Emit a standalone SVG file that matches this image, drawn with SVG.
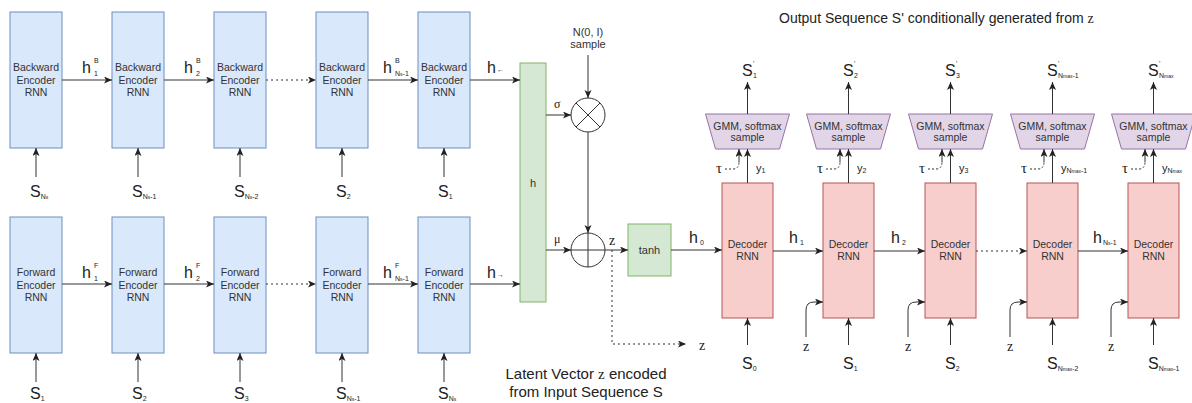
<svg xmlns="http://www.w3.org/2000/svg" width="1192" height="403" viewBox="0 0 1192 403">
<style>
.enc{fill:#dae8fc;stroke:#6c8ebf;stroke-width:1}
.grn{fill:#d5e8d4;stroke:#82b366;stroke-width:1}
.dec{fill:#f8cecc;stroke:#b85450;stroke-width:1}
.gmm{fill:#e1d5e7;stroke:#9673a6;stroke-width:1}
.bt{font-family:"Liberation Sans",Arial,sans-serif;font-size:10.5px;fill:#333;text-anchor:middle}
.big{font-family:"Liberation Sans",Arial,sans-serif;font-size:16px;fill:#222}
.sm{font-size:7px}
.cap{font-family:"Liberation Sans",Arial,sans-serif;font-size:13.5px;fill:#222}
.ser{font-family:"Liberation Serif","Times New Roman",serif;fill:#222}
.ln{fill:none;stroke:#333;stroke-width:1}
.ar{fill:none;stroke:#333;stroke-width:1;marker-end:url(#arr)}
.dot{fill:none;stroke:#333;stroke-width:1;stroke-dasharray:2 3;marker-end:url(#arr)}
.dotn{fill:none;stroke:#333;stroke-width:1;stroke-dasharray:2 2}
.circ{fill:#fff;stroke:#333;stroke-width:1}
</style>
<defs>
<marker id="arr" markerWidth="9" markerHeight="8" refX="8" refY="3.5" orient="auto" markerUnits="userSpaceOnUse">
<path d="M0,0 L8,3.5 L0,7 L2,3.5 z" fill="#222"/>
</marker>
</defs>
<rect width="1192" height="403" fill="#fff"/>

<!-- Backward encoders -->
<g id="benc1"><rect class="enc" x="10" y="12" width="52" height="136"/><text class="bt" x="36" y="71">Backward</text><text class="bt" x="36" y="84">Encoder</text><text class="bt" x="36" y="96">RNN</text></g>
<g id="benc2"><rect class="enc" x="112" y="12" width="52" height="136"/><text class="bt" x="138" y="71">Backward</text><text class="bt" x="138" y="84">Encoder</text><text class="bt" x="138" y="96">RNN</text></g>
<g id="benc3"><rect class="enc" x="214" y="12" width="52" height="136"/><text class="bt" x="240" y="71">Backward</text><text class="bt" x="240" y="84">Encoder</text><text class="bt" x="240" y="96">RNN</text></g>
<g id="benc4"><rect class="enc" x="316" y="12" width="52" height="136"/><text class="bt" x="342" y="71">Backward</text><text class="bt" x="342" y="84">Encoder</text><text class="bt" x="342" y="96">RNN</text></g>
<g id="benc5"><rect class="enc" x="418" y="12" width="52" height="136"/><text class="bt" x="444" y="71">Backward</text><text class="bt" x="444" y="84">Encoder</text><text class="bt" x="444" y="96">RNN</text></g>

<!-- Forward encoders -->
<g id="fenc1"><rect class="enc" x="10" y="217" width="52" height="136"/><text class="bt" x="36" y="276">Forward</text><text class="bt" x="36" y="289">Encoder</text><text class="bt" x="36" y="301">RNN</text></g>
<g id="fenc2"><rect class="enc" x="112" y="217" width="52" height="136"/><text class="bt" x="138" y="276">Forward</text><text class="bt" x="138" y="289">Encoder</text><text class="bt" x="138" y="301">RNN</text></g>
<g id="fenc3"><rect class="enc" x="214" y="217" width="52" height="136"/><text class="bt" x="240" y="276">Forward</text><text class="bt" x="240" y="289">Encoder</text><text class="bt" x="240" y="301">RNN</text></g>
<g id="fenc4"><rect class="enc" x="316" y="217" width="52" height="136"/><text class="bt" x="342" y="276">Forward</text><text class="bt" x="342" y="289">Encoder</text><text class="bt" x="342" y="301">RNN</text></g>
<g id="fenc5"><rect class="enc" x="418" y="217" width="52" height="136"/><text class="bt" x="444" y="276">Forward</text><text class="bt" x="444" y="289">Encoder</text><text class="bt" x="444" y="301">RNN</text></g>

<!-- h concat -->
<g id="hbox"><rect class="grn" x="520" y="63" width="26" height="239"/><text class="bt" x="533" y="187" style="font-size:11px">h</text></g>

<!-- ops -->
<g id="mul"><circle class="circ" cx="588" cy="115" r="17"/><path class="ln" d="M576,103 L600,127 M600,103 L576,127"/></g>
<g id="add"><circle class="circ" cx="588" cy="250" r="17"/><path class="ln" d="M571,250 L605,250 M588,233 L588,267"/></g>
<g id="noise"><text class="bt" x="588" y="36" style="font-size:11px">N(0, I)</text><text class="bt" x="588" y="48" style="font-size:11px">sample</text></g>
<g id="tanh"><rect class="grn" x="628" y="224" width="43" height="52"/><text class="bt" x="649.5" y="254" style="font-size:11px">tanh</text></g>

<!-- Decoders -->
<g id="dec1"><rect class="dec" x="722" y="183" width="51" height="135"/><text class="bt" x="747.5" y="248">Decoder</text><text class="bt" x="747.5" y="260">RNN</text></g>
<g id="dec2"><rect class="dec" x="823" y="183" width="51" height="135"/><text class="bt" x="848.5" y="248">Decoder</text><text class="bt" x="848.5" y="260">RNN</text></g>
<g id="dec3"><rect class="dec" x="925" y="183" width="51" height="135"/><text class="bt" x="950.5" y="248">Decoder</text><text class="bt" x="950.5" y="260">RNN</text></g>
<g id="dec4"><rect class="dec" x="1027" y="183" width="51" height="135"/><text class="bt" x="1052.5" y="248">Decoder</text><text class="bt" x="1052.5" y="260">RNN</text></g>
<g id="dec5"><rect class="dec" x="1128" y="183" width="51" height="135"/><text class="bt" x="1153.5" y="248">Decoder</text><text class="bt" x="1153.5" y="260">RNN</text></g>

<!-- GMM samplers -->
<g id="gmm1"><path class="gmm" d="M705.5,114 L789.5,114 L779.5,149 L715.5,149 Z"/><text class="bt" x="747.5" y="129.5">GMM, softmax</text><text class="bt" x="747.5" y="141">sample</text></g>
<g id="gmm2"><path class="gmm" d="M806.5,114 L890.5,114 L880.5,149 L816.5,149 Z"/><text class="bt" x="848.5" y="129.5">GMM, softmax</text><text class="bt" x="848.5" y="141">sample</text></g>
<g id="gmm3"><path class="gmm" d="M908.5,114 L992.5,114 L982.5,149 L918.5,149 Z"/><text class="bt" x="950.5" y="129.5">GMM, softmax</text><text class="bt" x="950.5" y="141">sample</text></g>
<g id="gmm4"><path class="gmm" d="M1010.5,114 L1094.5,114 L1084.5,149 L1020.5,149 Z"/><text class="bt" x="1052.5" y="129.5">GMM, softmax</text><text class="bt" x="1052.5" y="141">sample</text></g>
<g id="gmm5"><path class="gmm" d="M1111.5,114 L1195.5,114 L1185.5,149 L1121.5,149 Z"/><text class="bt" x="1153.5" y="129.5">GMM, softmax</text><text class="bt" x="1153.5" y="141">sample</text></g>

<!-- Connectors -->
<g id="connectors">
<path class="ar" d="M62,80 L112,80"/>
<path class="ar" d="M164,80 L214,80"/>
<path class="dot" d="M266,80 L316,80"/>
<path class="ar" d="M368,80 L418,80"/>
<path class="ar" d="M470,80 L520,80"/>
<path class="ar" d="M62,284 L112,284"/>
<path class="ar" d="M164,284 L214,284"/>
<path class="dot" d="M266,284 L316,284"/>
<path class="ar" d="M368,284 L418,284"/>
<path class="ar" d="M470,284 L520,284"/>
<path class="ar" d="M36,177 L36,148"/>
<path class="ar" d="M138,177 L138,148"/>
<path class="ar" d="M240,177 L240,148"/>
<path class="ar" d="M342,177 L342,148"/>
<path class="ar" d="M444,177 L444,148"/>
<path class="ar" d="M36,382 L36,353"/>
<path class="ar" d="M138,382 L138,353"/>
<path class="ar" d="M240,382 L240,353"/>
<path class="ar" d="M342,382 L342,353"/>
<path class="ar" d="M444,382 L444,353"/>
<path class="ar" d="M546,115 L571,115"/>
<path class="ar" d="M546,250 L571,250"/>
<path class="ar" d="M588,55 L588,98"/>
<path class="ar" d="M588,132 L588,233"/>
<path class="ar" d="M605,250 L628,250"/>
<path class="dot" d="M612,250 L612,344 L686,344"/>
<path class="ar" d="M671,250 L722,250"/>
<path class="ar" d="M773,251 L823,251"/>
<path class="ar" d="M874,251 L925,251"/>
<path class="dot" d="M976,251 L1027,251"/>
<path class="ar" d="M1078,251 L1128,251"/>
<path class="ar" d="M747.5,345 L747.5,318"/>
<path class="ar" d="M848.5,345 L848.5,318"/>
<path class="ar" d="M950.5,345 L950.5,318"/>
<path class="ar" d="M1052.5,345 L1052.5,318"/>
<path class="ar" d="M1153.5,345 L1153.5,318"/>
<path class="ar" d="M806,337 L806,310 Q806,302 814,302 L823,302"/>
<path class="ar" d="M908,337 L908,310 Q908,302 916,302 L925,302"/>
<path class="ar" d="M1010,337 L1010,310 Q1010,302 1018,302 L1027,302"/>
<path class="ar" d="M1111,337 L1111,310 Q1111,302 1119,302 L1128,302"/>
<path class="ar" d="M747.5,183 L747.5,149"/>
<path class="ar" d="M848.5,183 L848.5,149"/>
<path class="ar" d="M950.5,183 L950.5,149"/>
<path class="ar" d="M1052.5,183 L1052.5,149"/>
<path class="ar" d="M1153.5,183 L1153.5,149"/>
<path class="ar" d="M747.5,114 L747.5,82"/>
<path class="ar" d="M848.5,114 L848.5,82"/>
<path class="ar" d="M950.5,114 L950.5,82"/>
<path class="ar" d="M1052.5,114 L1052.5,82"/>
<path class="ar" d="M1153.5,114 L1153.5,82"/>
<path class="dotn" d="M725,169 L733,169 Q739,169 739,162"/><path class="ar" d="M739,162 L739,149"/>
<path class="dotn" d="M826,169 L834,169 Q840,169 840,162"/><path class="ar" d="M840,162 L840,149"/>
<path class="dotn" d="M928,169 L936,169 Q942,169 942,162"/><path class="ar" d="M942,162 L942,149"/>
<path class="dotn" d="M1030,169 L1038,169 Q1044,169 1044,162"/><path class="ar" d="M1044,162 L1044,149"/>
<path class="dotn" d="M1131,169 L1139,169 Q1145,169 1145,162"/><path class="ar" d="M1145,162 L1145,149"/>
</g>

<!-- Encoder labels -->
<g id="enc-labels">
<text class="big" x="82" y="73">h<tspan class="sm" x="94" y="63">B</tspan><tspan class="sm" x="94" y="76">1</tspan></text>
<text class="big" x="184" y="73">h<tspan class="sm" x="196" y="63">B</tspan><tspan class="sm" x="196" y="76">2</tspan></text>
<text class="big" x="383" y="73">h<tspan class="sm" x="395" y="63">B</tspan><tspan class="sm" x="395" y="76">N<tspan style="font-size:5px">s</tspan>-1</tspan></text>
<text class="big" x="487" y="73">h<tspan class="sm" x="497" y="72">←</tspan></text>
<text class="big" x="82" y="278">h<tspan class="sm" x="94" y="268">F</tspan><tspan class="sm" x="94" y="281">1</tspan></text>
<text class="big" x="184" y="278">h<tspan class="sm" x="196" y="268">F</tspan><tspan class="sm" x="196" y="281">2</tspan></text>
<text class="big" x="383" y="278">h<tspan class="sm" x="395" y="268">F</tspan><tspan class="sm" x="395" y="281">N<tspan style="font-size:5px">s</tspan>-1</tspan></text>
<text class="big" x="487" y="278">h<tspan class="sm" x="497" y="277">→</tspan></text>
<text class="big" x="30" y="197">S<tspan class="sm" dy="2">N<tspan style="font-size:5px">s</tspan></tspan></text>
<text class="big" x="132" y="197">S<tspan class="sm" dy="2">N<tspan style="font-size:5px">s</tspan>-1</tspan></text>
<text class="big" x="234" y="197">S<tspan class="sm" dy="2">N<tspan style="font-size:5px">s</tspan>-2</tspan></text>
<text class="big" x="336" y="197">S<tspan class="sm" dy="2">2</tspan></text>
<text class="big" x="438" y="197">S<tspan class="sm" dy="2">1</tspan></text>
<text class="big" x="30" y="399">S<tspan class="sm" dy="2">1</tspan></text>
<text class="big" x="132" y="399">S<tspan class="sm" dy="2">2</tspan></text>
<text class="big" x="234" y="399">S<tspan class="sm" dy="2">3</tspan></text>
<text class="big" x="336" y="399">S<tspan class="sm" dy="2">N<tspan style="font-size:5px">s</tspan>-1</tspan></text>
<text class="big" x="438" y="399">S<tspan class="sm" dy="2">N<tspan style="font-size:5px">s</tspan></tspan></text>
</g>

<!-- Middle labels -->
<g id="mid-labels">
<text class="ser" x="554" y="108" style="font-size:12px">σ</text>
<text class="ser" x="554" y="243" style="font-size:12px">μ</text>
<text class="ser" x="609" y="245" style="font-size:14px">z</text>
<text class="ser" x="699" y="350" style="font-size:14px">z</text>
<text class="big" x="689" y="243">h<tspan class="sm" dx="2" dy="2">0</tspan></text>
<text class="cap" x="586" y="379" text-anchor="middle" style="font-size:15px">Latent Vector <tspan class="ser">z</tspan> encoded</text>
<text class="cap" x="586" y="397" text-anchor="middle" style="font-size:15px">from Input Sequence S</text>
</g>

<!-- Decoder labels -->
<g id="dec-labels">
<text class="cap" x="779" y="23" style="font-size:14px">Output Sequence S' conditionally generated from <tspan class="ser">z</tspan></text>
<text class="big" x="789" y="243">h<tspan class="sm" dx="2" dy="2">1</tspan></text>
<text class="big" x="891" y="243">h<tspan class="sm" dx="2" dy="2">2</tspan></text>
<text class="big" x="1093" y="243">h<tspan class="sm" dx="1" dy="2">N<tspan style="font-size:5px">s</tspan>-1</tspan></text>
<text class="big" x="742" y="76">S<tspan class="sm" x="753" y="66">'</tspan><tspan class="sm" x="753" y="78">1</tspan></text>
<text class="big" x="843" y="76">S<tspan class="sm" x="854" y="66">'</tspan><tspan class="sm" x="854" y="78">2</tspan></text>
<text class="big" x="945" y="76">S<tspan class="sm" x="956" y="66">'</tspan><tspan class="sm" x="956" y="78">3</tspan></text>
<text class="big" x="1047" y="76">S<tspan class="sm" x="1058" y="66">'</tspan><tspan class="sm" x="1058" y="78">N<tspan style="font-size:5px">max</tspan>-1</tspan></text>
<text class="big" x="1148" y="76">S<tspan class="sm" x="1159" y="66">'</tspan><tspan class="sm" x="1159" y="78">N<tspan style="font-size:5px">max</tspan></tspan></text>
<text class="ser" x="716" y="173" style="font-size:15px">τ</text>
<text class="ser" x="817" y="173" style="font-size:15px">τ</text>
<text class="ser" x="919" y="173" style="font-size:15px">τ</text>
<text class="ser" x="1021" y="173" style="font-size:15px">τ</text>
<text class="ser" x="1122" y="173" style="font-size:15px">τ</text>
<text class="cap" x="756" y="172" style="font-size:11px">y<tspan class="sm" dy="1">1</tspan></text>
<text class="cap" x="857" y="172" style="font-size:11px">y<tspan class="sm" dy="1">2</tspan></text>
<text class="cap" x="959" y="172" style="font-size:11px">y<tspan class="sm" dy="1">3</tspan></text>
<text class="cap" x="1061" y="172" style="font-size:11px">y<tspan class="sm" dy="1">N<tspan style="font-size:5px">max</tspan>-1</tspan></text>
<text class="cap" x="1162" y="172" style="font-size:11px">y<tspan class="sm" dy="1">N<tspan style="font-size:5px">max</tspan></tspan></text>
<text class="ser" x="806" y="351" text-anchor="middle" style="font-size:14px">z</text>
<text class="ser" x="908" y="351" text-anchor="middle" style="font-size:14px">z</text>
<text class="ser" x="1010" y="351" text-anchor="middle" style="font-size:14px">z</text>
<text class="ser" x="1111" y="351" text-anchor="middle" style="font-size:14px">z</text>
<text class="big" x="742" y="369">S<tspan class="sm" dy="2">0</tspan></text>
<text class="big" x="843" y="369">S<tspan class="sm" dy="2">1</tspan></text>
<text class="big" x="945" y="369">S<tspan class="sm" dy="2">2</tspan></text>
<text class="big" x="1047" y="369">S<tspan class="sm" dy="2">N<tspan style="font-size:5px">max</tspan>-2</tspan></text>
<text class="big" x="1148" y="369">S<tspan class="sm" dy="2">N<tspan style="font-size:5px">max</tspan>-1</tspan></text>
</g>
</svg>
